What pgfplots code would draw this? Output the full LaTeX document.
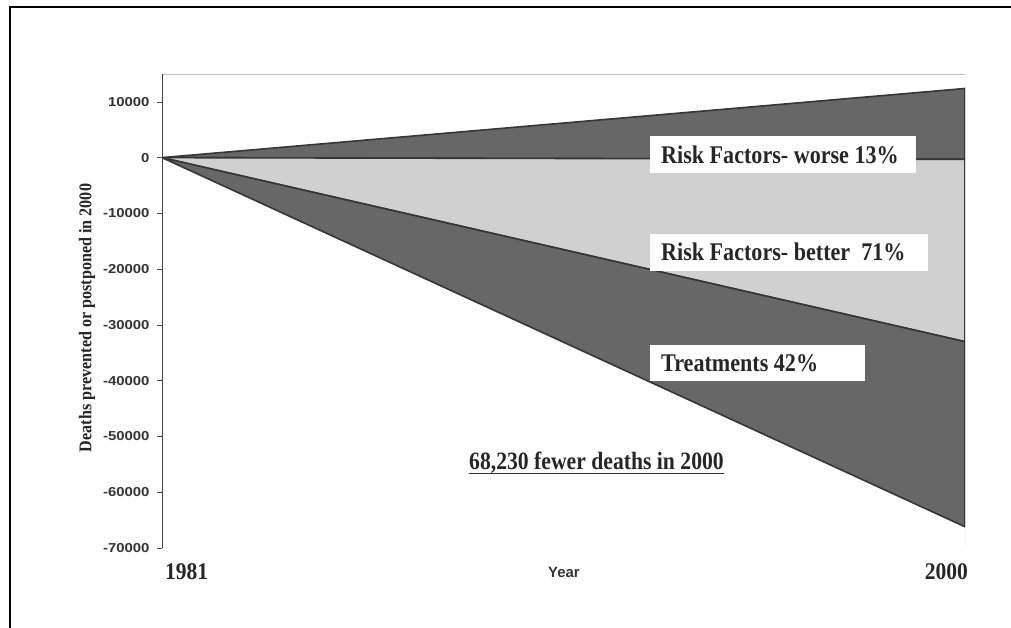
\documentclass[border=0pt]{standalone}
\usepackage{pgfplots}
\pgfplotsset{compat=1.18}
\usepackage{fontspec}
\setmainfont{Liberation Serif}
\newfontfamily\condserif[FakeStretch=0.87]{Liberation Serif}
\newfontfamily\labserif[FakeStretch=0.9]{Liberation Serif}
\newfontfamily\tickfont[FakeStretch=1.15]{Liberation Sans}
\definecolor{darkfill}{HTML}{676767}
\definecolor{lightfill}{HTML}{D0D0D0}
\definecolor{edge}{HTML}{363636}
\begin{document}
\begin{tikzpicture}[x=1bp,y=1bp]
\useasboundingbox (0,0) rectangle (1011,628);
\draw[line width=1.6bp, black] (10,0) -- (10,621) -- (1011,621);
\begin{axis}[
  at={(162bp,80bp)}, anchor=south west,
  scale only axis, width=803bp, height=474bp,
  xmin=1981, xmax=2000,
  ymin=-70000, ymax=15000,
  ytick={-70000,-60000,...,10000},
  xtick=\empty,
  ytick pos=left,
  tick align=outside,
  major tick length=5bp,
  tick style={black!70, line width=0.6bp},
  axis line style={draw=none},
  scaled y ticks=false,
  yticklabel style={font=\tickfont\bfseries\fontsize{13}{15}\selectfont, text=black!80, xshift=-4bp},
  /pgf/number format/assume math mode=true,
  /pgf/number format/.cd, 1000 sep={},
]
\addplot[fill=darkfill, draw=edge, line width=1.6bp] coordinates {(1981,0) (2000,12400) (2000,-300)} -- cycle;
\addplot[fill=lightfill, draw=edge, line width=1.6bp] coordinates {(1981,0) (2000,-300) (2000,-33000)} -- cycle;
\addplot[fill=darkfill, draw=edge, line width=1.6bp] coordinates {(1981,0) (2000,-33000) (2000,-66200)} -- cycle;
\draw[black!25, line width=0.8bp] (rel axis cs:0,1) -- (rel axis cs:1,1) -- (rel axis cs:1,0);
\draw[black!55, densely dotted, line width=0.8bp] (rel axis cs:0,0) -- (rel axis cs:1,0);
\draw[black!75, line width=0.8bp] (rel axis cs:0,0) -- (rel axis cs:0,1);
\end{axis}
% label boxes
\fill[white] (650,455) rectangle (916,492);
\node[anchor=base west, inner sep=0, text=black!85] at (661,464) {\condserif\fontsize{25.5}{28}\selectfont\bfseries Risk Factors- worse 13\%};
\fill[white] (650,357) rectangle (928,394);
\node[anchor=base west, inner sep=0, text=black!85] at (661,367) {\condserif\fontsize{25.5}{28}\selectfont\bfseries Risk Factors- better\ \ 71\%};
\fill[white] (650,247) rectangle (865,283);
\node[anchor=base west, inner sep=0, text=black!85] at (661,256) {\condserif\fontsize{25.5}{28}\selectfont\bfseries Treatments 42\%};
\node[anchor=base west, inner sep=0, text=black!85] (tot) at (469,158) {\condserif\fontsize{25}{28}\selectfont\bfseries 68,230 fewer deaths in 2000};
\draw[black!80, line width=1.6bp] ([yshift=-3.5bp]tot.base west) -- ([yshift=-3.5bp]tot.base east);
% y label
\node[rotate=90, text=black!85] at (87,310) {\labserif\fontsize{18}{20}\selectfont\bfseries Deaths prevented or postponed in 2000};
% x labels
\node[anchor=base west, inner sep=0, text=black!85] at (165,48) {\labserif\fontsize{24}{26}\selectfont\bfseries 1981};
\node[anchor=base east, inner sep=0, text=black!85] at (968,48) {\labserif\fontsize{24}{26}\selectfont\bfseries 2000};
\node[anchor=base, inner sep=0, text=black!80] at (564,50) {\fontspec{Liberation Sans}\fontsize{15}{17}\selectfont\bfseries Year};
\end{tikzpicture}
\end{document}
